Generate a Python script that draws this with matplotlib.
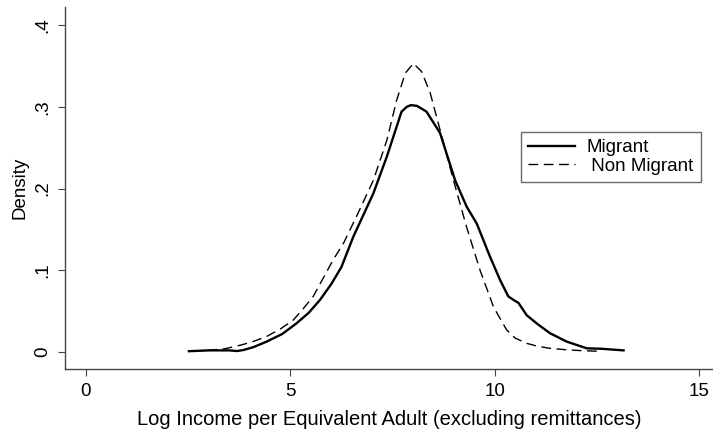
import matplotlib.pyplot as plt

plt.rcParams['font.family'] = ['Liberation Sans', 'DejaVu Sans']

# Migrant density
mig_x = [2.52, 3.0, 3.5, 3.7, 3.85, 4.1, 4.42, 4.8, 5.15, 5.45, 5.73, 6.0, 6.25, 6.54, 7.03, 7.36,
         7.72, 7.85, 7.95, 8.1, 8.33, 8.66, 9.03, 9.31, 9.56, 9.88, 10.13, 10.33, 10.45, 10.58,
         10.78, 11.05, 11.35, 11.76, 12.25, 12.6, 13.15]
mig_y = [0.001, 0.002, 0.002, 0.0012, 0.0024, 0.006, 0.0127, 0.022, 0.035, 0.048, 0.064, 0.083,
         0.104, 0.141, 0.194, 0.239, 0.294, 0.300, 0.302, 0.301, 0.294, 0.268, 0.210, 0.178,
         0.157, 0.117, 0.088, 0.068, 0.064, 0.060, 0.045, 0.034, 0.023, 0.0127, 0.0045, 0.004, 0.002]

# Non migrant density
non_x = [2.6, 3.0, 3.4, 3.8, 4.1, 4.42, 4.75, 5.07, 5.3, 5.56, 5.8, 6.05, 6.3, 6.62, 7.03, 7.36,
         7.6, 7.81, 8.01, 8.21, 8.42, 8.66, 8.99, 9.31, 9.64, 9.97, 10.29, 10.5, 10.78, 11.05,
         11.35, 11.8, 12.17, 12.5]
non_y = [0.001, 0.002, 0.004, 0.0086, 0.013, 0.019, 0.028, 0.039, 0.052, 0.068, 0.090, 0.113,
         0.133, 0.166, 0.210, 0.259, 0.308, 0.341, 0.353, 0.343, 0.317, 0.272, 0.210, 0.153,
         0.100, 0.055, 0.027, 0.017, 0.0106, 0.007, 0.0045, 0.0025, 0.0016, 0.001]

fig = plt.figure(figsize=(7.13, 4.38), dpi=100)
ax = fig.add_axes([0.0912, 0.1575, 0.909, 0.8265])

ax.plot(mig_x, mig_y, color='black', linewidth=1.7, label='Migrant')
ax.plot(non_x, non_y, color='black', linewidth=1.0, linestyle=(0, (7, 4)), label=' Non Migrant')

ax.set_xlim(-0.51, 15.34)
ax.set_ylim(-0.0208, 0.422)
ax.set_xticks([0, 5, 10, 15])
ax.set_yticks([0, 0.1, 0.2, 0.3, 0.4])
ax.set_yticklabels(['0', '.1', '.2', '.3', '.4'], rotation=90, va='center')

for s in ['top', 'right']:
    ax.spines[s].set_visible(False)
for s in ['left', 'bottom']:
    ax.spines[s].set_color('#444444')
    ax.spines[s].set_linewidth(1.0)
ax.tick_params(direction='out', length=5, width=0.8, color='#444444', labelsize=13.5, pad=5)

ax.set_xlabel('Log Income per Equivalent Adult (excluding remittances)', fontsize=14.5, labelpad=7)
ax.set_ylabel('Density', fontsize=13.5, labelpad=4)

leg = ax.legend(loc='upper left', bbox_to_anchor=(521 / 713, 1 - 132 / 438),
                bbox_transform=fig.transFigure, fontsize=13.5, frameon=True, fancybox=False,
                borderpad=0.38, labelspacing=0.08, handlelength=2.5, handletextpad=0.6,
                borderaxespad=0)
leg.get_frame().set_edgecolor('#444444')
leg.get_frame().set_linewidth(1.0)

fig.savefig('out.png', dpi=100)
